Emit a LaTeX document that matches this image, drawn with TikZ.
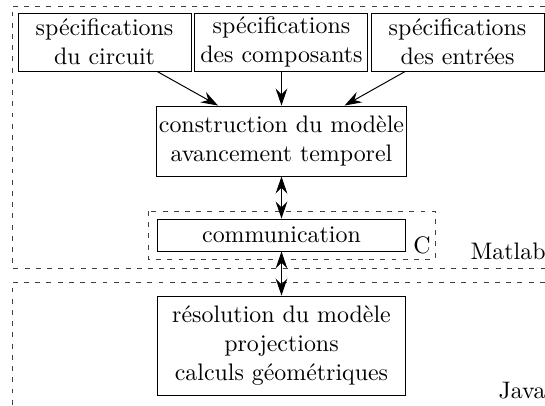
\documentclass[tikz,border=0pt]{standalone}
\usepackage{fontspec}
\usepackage{tikz}
\usetikzlibrary{arrows.meta}
\tikzset{
    % Matlab / Java blocks
    specbox/.style={rectangle, draw, minimum width=2.494cm, minimum height=0.836cm,
                inner xsep=1pt, inner ysep=1pt, align=center},
    mbox/.style={rectangle, draw, minimum width=3.561cm, inner xsep=1pt,
                inner ysep=1pt, align=center},
    marrow/.style={-{Stealth[length=7pt, width=4.8pt, inset=2.4pt]}},
    mdarrow/.style={{Stealth[length=7pt, width=4.8pt, inset=2.4pt]}-{Stealth[length=7pt, width=4.8pt, inset=2.4pt]}},
    % Zones
    zone/.style={draw=black!75, dash pattern=on 2pt off 2.6pt},
    zlabel/.style={inner sep=0pt},
}
\begin{document}
\begin{tikzpicture}[font=\fontsize{9.8pt}{11.8pt}\selectfont]
\useasboundingbox (0,0) rectangle (7.857,-5.839);

% zones
\draw[zone] (8.5,-0.087) -| (0.173,-3.864) -- (8.5,-3.864);
\draw[zone] (8.5,-4.066) -| (0.173,-6.5);
\draw[zone] (2.134,-3.042) rectangle (6.271,-3.734);

\node[specbox] (circ) at (1.507,-0.606) {spécifications\\du circuit};
\node[specbox] (comp) at (4.058,-0.606) {spécifications\\des composants};
\node[specbox] (entr) at (6.596,-0.606) {spécifications\\des entrées};
\node[mbox, minimum height=1.009cm] (constr) at (4.058,-2.033) {construction du modèle\\avancement temporel};
\node[mbox, minimum height=0.461cm] (comm)   at (4.058,-3.388) {communication};
\node[mbox, minimum height=1.427cm] (resol)  at (4.058,-4.981) {résolution du modèle\\projections\\calculs géométriques};

\draw[marrow] (circ) -- (constr);
\draw[marrow] (comp) -- (constr);
\draw[marrow] (entr) -- (constr);
\draw[mdarrow] (constr) -- (comm);
\draw[mdarrow] (comm) -- (resol);

\node[zlabel] (lblc)      at (6.084,-3.532) {C};
\node[zlabel] (lblmatlab) at (7.325,-3.619) {Matlab};
\node[zlabel] (lbljava)   at (7.526,-5.637) {Java};
\end{tikzpicture}
\end{document}
